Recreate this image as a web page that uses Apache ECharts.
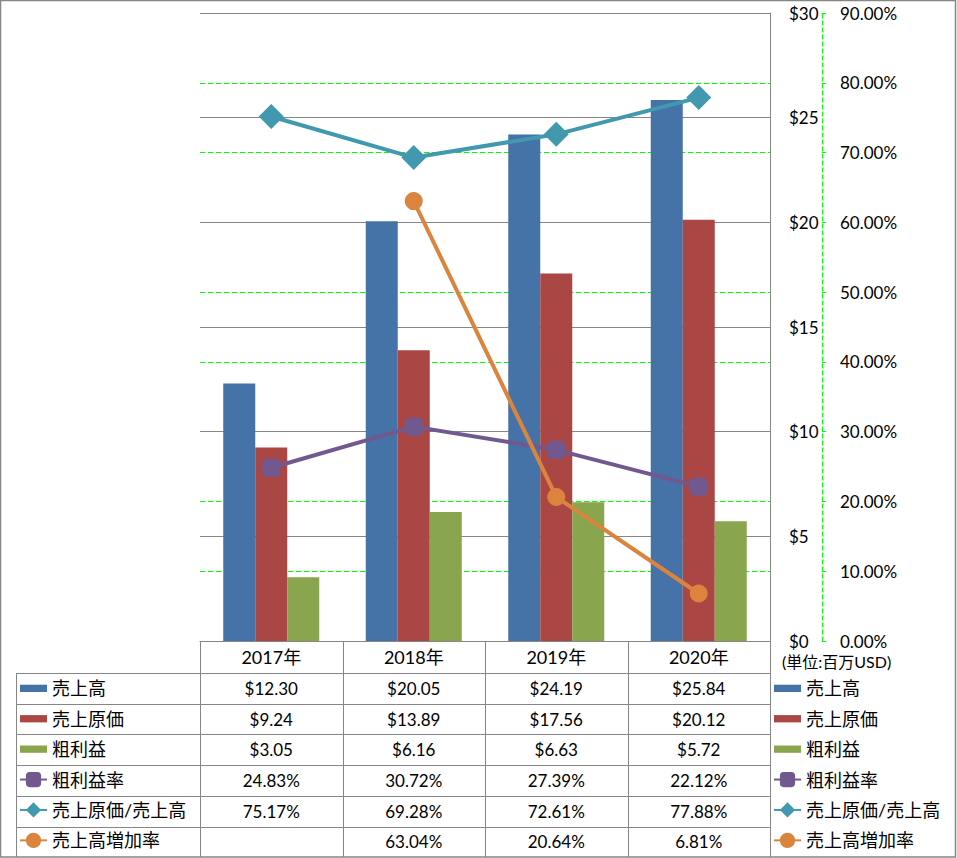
<!DOCTYPE html>
<html><head><meta charset="utf-8">
<script src="https://cdn.jsdelivr.net/npm/echarts@6/dist/echarts.min.js"></script>
<style>html,body{margin:0;padding:0;background:#fff}#c{width:957px;height:858px}</style>
</head><body><div id="c"></div>
<script>
// ---- data ----
const categories = ['2017年', '2018年', '2019年', '2020年'];
const seriesNames = ['売上高', '売上原価', '粗利益', '粗利益率', '売上原価/売上高', '売上高増加率'];
const sales = [12.30, 20.05, 24.19, 25.84];
const cogs = [9.24, 13.89, 17.56, 20.12];
const grossProfit = [3.05, 6.16, 6.63, 5.72];
const grossMargin = [24.83, 30.72, 27.39, 22.12];
const cogsRatio = [75.17, 69.28, 72.61, 77.88];
const salesGrowth = [null, 63.04, 20.64, 6.81];
const dollarAxis = { min: 0, max: 30, interval: 5 };
const pctAxis = { min: 0, max: 90, interval: 10 };
const unitLabel = '(単位:百万USD)';

// ---- styles / layout ----
const W = 957, H = 858;
const FONT = "Lato, 'Noto Sans CJK JP', sans-serif";
const GRAY = '#868686';
const GREEN = '#00ff00';
const colors = ['#4572A7', '#AA4643', '#89A54E', '#71588F', '#4198AF', '#DB843D'];
const grid = { left: 200, right: 187, top: 13, bottom: 217 };
const headerH = 32, rowH = 30.7;
const gridBottomY = H - grid.bottom;
const firstRowTop = gridBottomY + headerH;
const barIcon = 'path://M0,0h26v7h-26z';
const legendItemH = 19;
const legendBoxH = 18.3;

const values = [sales, cogs, grossProfit, grossMargin, cogsRatio, salesGrowth];
const isPct = [false, false, false, true, true, true];

const chart = echarts.init(document.getElementById('c'), null, { renderer: 'svg' });

function legendCfg(left) {
  return {
    orient: 'vertical', left: left, top: firstRowTop + rowH / 2 - legendItemH / 2 + 0.5,
    itemWidth: 27, itemHeight: legendItemH, itemGap: rowH - legendBoxH, padding: 0,
    symbolKeepAspect: true, selectedMode: false,
    textStyle: { fontFamily: FONT, fontSize: 18, lineHeight: 17, color: '#000' },
    data: seriesNames.map((n, i) => i < 3 ? { name: n, icon: barIcon } : { name: n })
  };
}

const option = {
  backgroundColor: '#fff',
  animation: false,
  textStyle: { fontFamily: FONT },
  grid: grid,
  legend: [legendCfg(19), legendCfg(773)],
  xAxis: {
    type: 'category', data: categories,
    axisLine: { show: true, lineStyle: { color: GRAY, width: 1 } },
    axisTick: { show: false },
    axisLabel: { color: '#000', fontSize: 18, fontFamily: FONT, margin: 7 },
    splitLine: { show: false }
  },
  yAxis: [
    {
      type: 'value', position: 'right', z: 1,
      min: dollarAxis.min, max: dollarAxis.max, interval: dollarAxis.interval,
      axisLine: { show: true, lineStyle: { color: GRAY, width: 1 } },
      axisTick: { show: false },
      axisLabel: { color: '#000', fontSize: 17, fontFamily: FONT, margin: 19, formatter: v => '$' + v },
      splitLine: { show: true, lineStyle: { color: GRAY, width: 1 } }
    },
    {
      type: 'value', position: 'right', offset: 52, z: 0,
      min: pctAxis.min, max: pctAxis.max, interval: pctAxis.interval,
      axisLine: { show: true, lineStyle: { color: GREEN, width: 1, type: [4, 3] } },
      axisTick: { show: true, length: 4, lineStyle: { color: GREEN } },
      axisLabel: { color: '#000', fontSize: 17, fontFamily: FONT, margin: 18, formatter: v => v.toFixed(2) + '%' },
      splitLine: { show: true, lineStyle: { color: GREEN, width: 1, type: [5, 3] } }
    }
  ],
  series: [
    { name: seriesNames[0], type: 'bar', data: sales, barWidth: 32, barGap: '0%', itemStyle: { color: colors[0] } },
    { name: seriesNames[1], type: 'bar', data: cogs, barWidth: 32, barGap: '0%', itemStyle: { color: colors[1] } },
    { name: seriesNames[2], type: 'bar', data: grossProfit, barWidth: 32, barGap: '0%', itemStyle: { color: colors[2] } },
    { name: seriesNames[3], type: 'line', yAxisIndex: 1, data: grossMargin, symbol: 'roundRect', symbolSize: 18,
      lineStyle: { width: 4, color: colors[3] }, itemStyle: { color: colors[3] } },
    { name: seriesNames[4], type: 'line', yAxisIndex: 1, data: cogsRatio, symbol: 'diamond', symbolSize: 25,
      lineStyle: { width: 4, color: colors[4] }, itemStyle: { color: colors[4] } },
    { name: seriesNames[5], type: 'line', yAxisIndex: 1, data: salesGrowth, symbol: 'circle', symbolSize: 18,
      lineStyle: { width: 4, color: colors[5] }, itemStyle: { color: colors[5] } }
  ]
};
chart.setOption(option);

// ---- data table built from the axis layout ----
const centers = categories.map((c, i) => chart.convertToPixel({ xAxisIndex: 0 }, i));
const band = centers.length > 1 ? centers[1] - centers[0] : (W - grid.left - grid.right);
const bounds = [centers[0] - band / 2].concat(centers.map(c => c + band / 2));
const plotRight = bounds[bounds.length - 1];
const baseY = chart.convertToPixel({ yAxisIndex: 0 }, 0);
const tableBottom = H - 1;
const lineStyle = { stroke: GRAY, lineWidth: 1 };
const g = [];
function hline(x1, x2, y) { g.push({ type: 'line', silent: true, shape: { x1, y1: y, x2, y2: y }, style: lineStyle, z: 10 }); }
function vline(x, y1, y2) { g.push({ type: 'line', silent: true, shape: { x1: x, y1, x2: x, y2 }, style: lineStyle, z: 10 }); }

for (let r = 0; r < seriesNames.length; r++) hline(16, plotRight, Math.round(firstRowTop + r * rowH) + 0.5);
vline(16.5, firstRowTop, tableBottom);
bounds.forEach(b => vline(Math.round(b) + 0.5, baseY, tableBottom));
values.forEach((arr, r) => {
  const cy = firstRowTop + r * rowH + rowH / 2;
  arr.forEach((v, i) => {
    if (v === null || v === undefined) return;
    const txt = isPct[r] ? v.toFixed(2) + '%' : '$' + v.toFixed(2);
    g.push({ type: 'text', silent: true, x: centers[i], y: cy, z: 10,
      style: { text: txt, align: 'center', verticalAlign: 'middle', fontFamily: FONT, fontSize: 17, fill: '#000' } });
  });
});
g.push({ type: 'text', silent: true, x: plotRight + 12, y: baseY + 20, z: 10,
  style: { text: unitLabel, align: 'left', verticalAlign: 'middle', fontFamily: FONT, fontSize: 16, fill: '#000' } });
g.push({ type: 'rect', silent: true, z: 10, shape: { x: 0.5, y: 0.5, width: W - 2, height: H - 1.5 },
  style: { fill: 'none', stroke: GRAY, lineWidth: 1.5 } });
chart.setOption({ graphic: g });
</script>
</body></html>
